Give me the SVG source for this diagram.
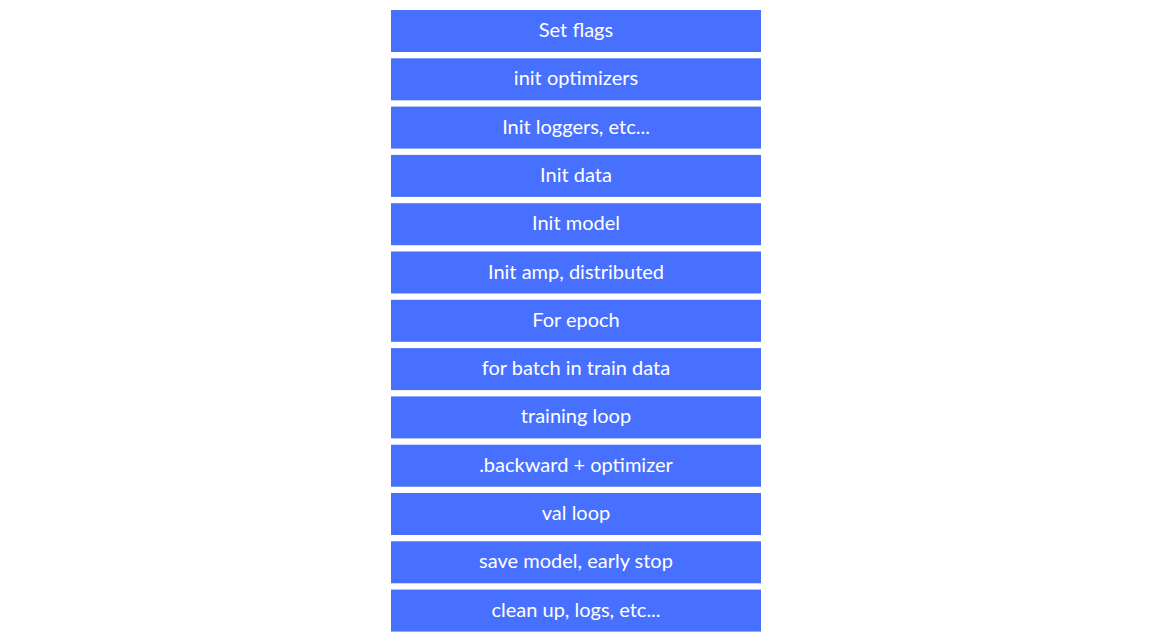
<svg xmlns="http://www.w3.org/2000/svg" width="1152" height="641" viewBox="0 0 1152 641">
<style>
.b{fill:#4870fe;}
.t{font-family:Lato,"Open Sans","Noto Sans",sans-serif;font-size:20px;fill:#ffffff;text-anchor:middle;dominant-baseline:central;}
</style>
<rect width="1152" height="641" fill="#ffffff"/>
<g id="n1"><rect class="b" x="391" y="10" width="370" height="42"/><text class="t" x="576" y="29">Set flags</text></g>
<g id="n2"><rect class="b" x="391" y="58.3" width="370" height="42"/><text class="t" x="576" y="77.3">init optimizers</text></g>
<g id="n3"><rect class="b" x="391" y="106.6" width="370" height="42"/><text class="t" x="576" y="125.6">Init loggers, etc...</text></g>
<g id="n4"><rect class="b" x="391" y="154.9" width="370" height="42"/><text class="t" x="576" y="173.9">Init data</text></g>
<g id="n5"><rect class="b" x="391" y="203.2" width="370" height="42"/><text class="t" x="576" y="222.2">Init model</text></g>
<g id="n6"><rect class="b" x="391" y="251.5" width="370" height="42"/><text class="t" x="576" y="270.5">Init amp, distributed</text></g>
<g id="n7"><rect class="b" x="391" y="299.8" width="370" height="42"/><text class="t" x="576" y="318.8">For epoch</text></g>
<g id="n8"><rect class="b" x="391" y="348.1" width="370" height="42"/><text class="t" x="576" y="367.1">for batch in train data</text></g>
<g id="n9"><rect class="b" x="391" y="396.4" width="370" height="42"/><text class="t" x="576" y="415.4">training loop</text></g>
<g id="n10"><rect class="b" x="391" y="444.7" width="370" height="42"/><text class="t" x="576" y="463.7">.backward + optimizer</text></g>
<g id="n11"><rect class="b" x="391" y="493" width="370" height="42"/><text class="t" x="576" y="512">val loop</text></g>
<g id="n12"><rect class="b" x="391" y="541.3" width="370" height="42"/><text class="t" x="576" y="560.3">save model, early stop</text></g>
<g id="n13"><rect class="b" x="391" y="589.6" width="370" height="42"/><text class="t" x="576" y="608.6">clean up, logs, etc...</text></g>
<g id="connectors"></g>
</svg>
